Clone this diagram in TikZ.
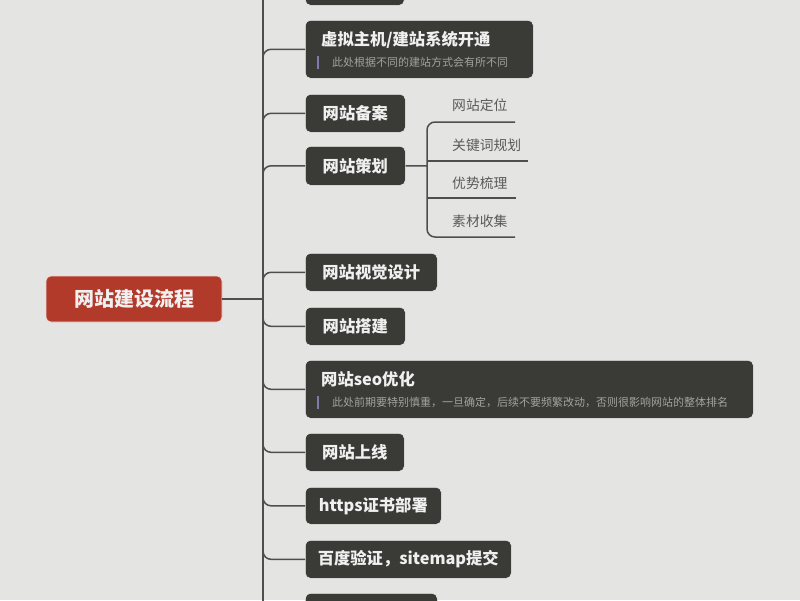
\documentclass[tikz,border=0pt]{standalone}
\usepackage{fontspec}
\setmainfont{Noto Sans CJK SC}
\definecolor{bg}{HTML}{E4E4E2}
\definecolor{boxc}{HTML}{3A3A36}
\definecolor{rootc}{HTML}{B23A2B}
\definecolor{linec}{HTML}{4E4E4A}
\definecolor{leafc}{HTML}{5A5A58}
\definecolor{subc}{HTML}{A2A29E}
\definecolor{barc}{HTML}{7C7CAA}
\tikzset{
  x=1pt, y=-1pt,
  box/.style={fill=boxc, draw=white!85!gray, line width=0.6pt, rounded corners=5pt, text=white!94!black, font=\fontsize{16.3}{18}\selectfont\bfseries, minimum height=38, inner sep=0pt, anchor=north west},
  rootbox/.style={fill=rootc, draw=white!80!rootc, line width=0.6pt, rounded corners=5pt, text=white!94!black, font=\fontsize{20}{22}\selectfont\bfseries, minimum width=176, minimum height=46, inner sep=0pt},
  conn/.style={draw=linec, line width=1.5pt, rounded corners=8pt},
  leaf/.style={text=leafc, font=\fontsize{13.8}{16}\selectfont, anchor=west, inner sep=0pt},
  ttl/.style={text=white!94!black, font=\fontsize{16.3}{18}\selectfont\bfseries, anchor=west, inner sep=0pt},
  subt/.style={text=subc, font=\fontsize{11}{12}\selectfont, anchor=west, inner sep=0pt},
  bar/.style={draw=barc, line width=1.4pt},
}
\begin{document}
\begin{tikzpicture}
\fill[bg] (0,0) rectangle (800,600);
\useasboundingbox (0,0) rectangle (800,600);

% trunk
\coordinate (J) at (263,299);
\coordinate (Ttop) at (263,-2);
\coordinate (Tbot) at (263,602);
\draw[conn] (Ttop) -- (Tbot);

% root
\node[rootbox] (root) at (134,299) {网站建设流程};
\draw[conn] (root.east) -- (J);

% boxes
\node[box, minimum width=99] (b0) at (305,-33) {};
\node[box, minimum width=228, minimum height=58] (b1) at (305,20) {};
\node[ttl] (b1t) at (321,40) {虚拟主机/建站系统开通};
\coordinate (b1a) at (318,56);
\coordinate (b1b) at (318,69);
\draw[bar] (b1a) -- (b1b);
\node[subt] (b1s) at (332,62.5) {此处根据不同的建站方式会有所不同};

\node[box, minimum width=100] (b2) at (305,94) {网站备案};
\node[box, minimum width=100, minimum height=39] (b3) at (305,146) {网站策划};
\node[box, minimum width=132] (b4) at (305,253) {网站视觉设计};
\node[box, minimum width=100] (b5) at (305,307) {网站搭建};
\node[box, minimum width=448, minimum height=58] (b6) at (305,360) {};
\node[ttl] (b6t) at (321,379) {网站seo优化};
\coordinate (b6a) at (318,396);
\coordinate (b6b) at (318,409);
\draw[bar] (b6a) -- (b6b);
\node[subt] (b6s) at (332,402.5) {此处前期要特别慎重，一旦确定，后续不要频繁改动，否则很影响网站的整体排名};
\node[box, minimum width=99] (b7) at (305,433) {网站上线};
\node[box, minimum width=136, minimum height=37] (b8) at (305,487) {https证书部署};
\node[box, minimum width=206] (b9) at (305,540) {百度验证，sitemap提交};
\node[box, minimum width=132] (b10) at (305,593) {};

% branches
\foreach \b in {b0,b1,b2,b3,b4,b5,b6,b7,b8,b9,b10}{
  \draw[conn] (J) |- (\b.west);
}

% sub branches of b3
\coordinate (S) at (427,166);
\coordinate (s2) at (427,161);
\coordinate (s3) at (427,198);
\coordinate (e1) at (515,122);
\coordinate (e2) at (528,161);
\coordinate (e3) at (516,198);
\coordinate (e4) at (515,237);
\draw[conn] (b3.east) -- (S);
\draw[conn] (e1) -| (S) |- (e4);
\draw[conn] (s2) -- (e2);
\draw[conn] (s3) -- (e3);
\node[leaf] (l1) at (452,105) {网站定位};
\node[leaf] (l2) at (452,145) {关键词规划};
\node[leaf] (l3) at (452,183) {优势梳理};
\node[leaf] (l4) at (452,221) {素材收集};
\end{tikzpicture}
\end{document}
